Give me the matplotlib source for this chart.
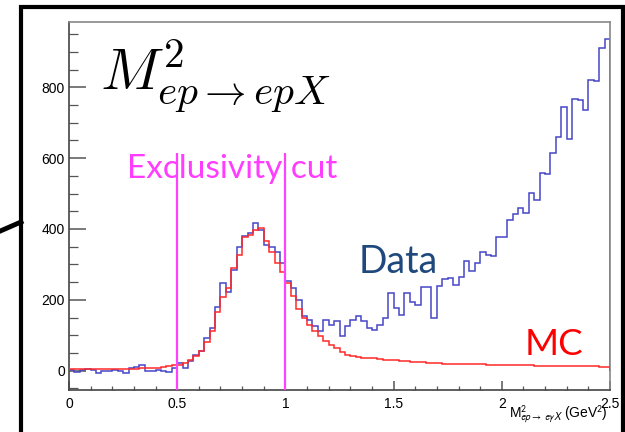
import numpy as np
import matplotlib
matplotlib.use("Agg")
import matplotlib.pyplot as plt
from matplotlib.lines import Line2D
from matplotlib.ticker import MultipleLocator

# === Histogram contents (100 bins, 0 - 2.5 GeV^2) ===
n_bins = 100
x_lo, x_hi = 0.0, 2.5

data_counts = [
    3, -4, 3, 4, 2, -6, -2, -2, 1, 0, -7, 8, 10, 15, -2, -2, 1, 0, -5, 8,
    22, 8, 28, 45, 56, 92, 120, 180, 247, 223, 285, 350, 380, 388, 416, 397, 355, 350, 336, 305,
    252, 233, 200, 153, 144, 125, 111, 144, 130, 140, 97, 125, 144, 153, 140, 120, 116, 130, 148, 218,
    176, 158, 218, 195, 186, 235, 237, 148, 240, 258,
    262, 243, 265, 311, 280, 304, 334, 327, 323, 378, 378, 425, 443, 458, 444, 502, 482, 557, 556, 615,
    660, 743, 655, 768, 763, 737, 821, 818, 910, 937,
]

mc_counts = [
    4, 4, 4, 4, 4, 5, 5, 5, 5, 5, 6, 6, 6, 7, 7, 8, 9, 10, 12, 15,
    17, 22, 30, 42, 55, 80, 112, 165, 208, 234, 290, 327, 376, 383, 397, 402, 365, 335, 305, 278,
    248, 212, 175, 148, 130, 111, 97, 83, 73, 64, 52, 45, 41, 39, 37, 36, 35, 34, 31, 30,
    29, 28, 27, 25, 24, 24, 23, 21, 21, 20,
    20, 19, 19, 19, 18, 18, 18, 17, 17, 17, 16, 16, 16, 15, 15, 15, 14, 14, 14, 14,
    13, 13, 13, 13, 12, 12, 12, 12, 11, 11,
]

cut_edges = [0.5, 1.0]
cut_top = 614
x_ticks = [0, 0.5, 1, 1.5, 2, 2.5]
x_tick_labels = ["0", "0.5", "1", "1.5", "2", "2.5"]
y_ticks = [0, 200, 400, 600, 800]
y_tick_labels = ["0", "200", "400", "600", "800"]

plt.rcParams['font.family'] = ['Liberation Sans', 'DejaVu Sans']

W, H = 625, 432
fig = plt.figure(figsize=(W / 100, H / 100), dpi=100)


def fx(px):
    return px / W


def fy(py):
    return 1 - py / H


ax = fig.add_axes([fx(69), fy(390), (610 - 69) / W, (390 - 21.7) / H])

edges = np.linspace(x_lo, x_hi, n_bins + 1)
ax.stairs(data_counts, edges, color="#4646c8", lw=1.1, zorder=2)
ax.stairs(mc_counts, edges, color="#ff2a2a", lw=1.1, zorder=3)

ax.set_xlim(x_lo, x_hi)
ax.set_ylim(-54.5, 985)
ax.vlines(cut_edges, -54.5, cut_top, color="#ff40ff", lw=1.6, zorder=4)

# ROOT-like axes
ax.set_xticks(x_ticks)
ax.set_xticklabels(x_tick_labels)
ax.set_yticks(y_ticks)
ax.set_yticklabels(y_tick_labels)
ax.xaxis.set_minor_locator(MultipleLocator(0.1))
ax.yaxis.set_minor_locator(MultipleLocator(50))
ax.tick_params(axis="both", which="both", direction="in", color="#555555",
               labelsize=10, top=False, right=False)
ax.tick_params(axis="y", which="major", length=12, width=1.1, pad=3)
ax.tick_params(axis="y", which="minor", length=6.5, width=0.9)
ax.tick_params(axis="x", which="major", length=6.5, width=1.1, pad=5)
ax.tick_params(axis="x", which="minor", length=3.2, width=0.9)
for side in ["left", "bottom"]:
    ax.spines[side].set_color("#444444")
    ax.spines[side].set_linewidth(1.2)
for side in ["top", "right"]:
    ax.spines[side].set_color("#888888")
    ax.spines[side].set_linewidth(1.2)

# axis title (sits just under the last tick labels, as in the original)
fig.text(fx(608), fy(417), r"M$^{2}_{ep\rightarrow\ e\gamma X}$ (GeV$^{2}$)",
         ha="right", va="baseline", fontsize=10, math_fontfamily="stixsans")

# annotations
fig.text(fx(100), fy(90), r"$M^2_{ep\rightarrow epX}$", fontsize=42.5,
         ha="left", va="baseline", math_fontfamily="cm", color="black")
fig.text(fx(127), fy(178), "Exclusivity cut", family="Lato", fontsize=24,
         color="#ff3cff", ha="left", va="baseline")
fig.text(fx(359), fy(273), "Data", family="Lato", fontsize=27,
         color="#1f497d", ha="left", va="baseline")
fig.text(fx(525), fy(355), "MC", family="Lato", fontsize=26.5,
         color="#ff0000", ha="left", va="baseline")

# outer slide frame and pointer line
fig.add_artist(Line2D([fx(20.5), fx(20.5), fx(622.5), fx(622.5)],
                      [fy(445), fy(7), fy(7), fy(445)],
                      transform=fig.transFigure, color="black", lw=3.0,
                      solid_joinstyle="miter"))
fig.add_artist(Line2D([fx(-2), fx(21)], [fy(232), fy(222)],
                      transform=fig.transFigure, color="black", lw=3.5))

fig.savefig("out.png", dpi=100)
